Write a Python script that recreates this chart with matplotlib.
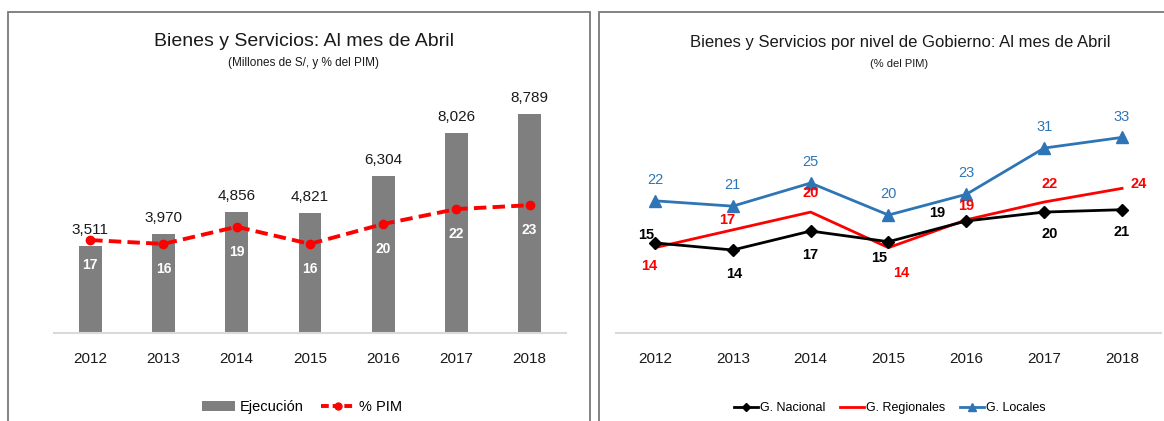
import matplotlib
matplotlib.use('Agg')
import matplotlib.pyplot as plt
from matplotlib.patches import Patch, Rectangle
from matplotlib.lines import Line2D

plt.rcParams['font.family'] = ['Liberation Sans', 'DejaVu Sans']

# datos
years = ['2012', '2013', '2014', '2015', '2016', '2017', '2018']
ejecucion = [3511, 3970, 4856, 4821, 6304, 8026, 8789]
pim_pct = [16.8, 16.1, 19.2, 16.1, 19.7, 22.4, 23.1]

g_nacional = [15.2, 14.0, 17.2, 15.4, 18.9, 20.4, 20.8]
g_regionales = [14.4, 17.4, 20.4, 14.4, 19.1, 22.1, 24.4]
g_locales = [22.3, 21.4, 25.3, 19.9, 23.4, 31.2, 33.0]

GRAY = '#7f7f7f'
RED = '#ff0000'
BLUE = '#2e75b6'
TXT = '#1a1a1a'

fig = plt.figure(figsize=(11.64, 4.21), dpi=100)

# marcos de los paneles
fig.add_artist(Rectangle((8 / 1164, -0.05), 582 / 1164, 1.05 - 12 / 421,
                         transform=fig.transFigure, fill=False,
                         edgecolor='#7a7a7a', linewidth=1.3))
fig.add_artist(Rectangle((599 / 1164, -0.05), 0.6, 1.05 - 12 / 421,
                         transform=fig.transFigure, fill=False,
                         edgecolor='#7a7a7a', linewidth=1.3))

x = list(range(len(years)))

# ---- grafico izquierdo: barras + linea
ax1 = fig.add_axes([0.046, 0.209, 0.4405, 0.5914])
ax1.bar(x, ejecucion, width=0.31, color=GRAY, zorder=2)
ax1.set_ylim(0, 10000)
ax1.set_xlim(-0.5, 6.5)
for i, v in enumerate(ejecucion):
    ax1.annotate(f'{v:,}', (i, v), xytext=(0, 11.5), textcoords='offset points',
                 ha='center', va='center', fontsize=11, color=TXT)
ax1.set_xticks(x)
ax1.set_xticklabels(years, fontsize=11, color=TXT)
ax1.tick_params(axis='x', length=0, pad=14)
ax1.set_yticks([])
for s in ['top', 'right', 'left']:
    ax1.spines[s].set_visible(False)
ax1.spines['bottom'].set_color('#d9d9d9')
ax1.spines['bottom'].set_linewidth(1.5)

ax2 = ax1.twinx()
ax2.plot(x, pim_pct, color=RED, linestyle=(0, (3.2, 1.6)), linewidth=2.8,
         marker='o', markersize=6, zorder=3)
ax2.set_ylim(0, 45)
for i, v in enumerate(pim_pct):
    ax2.annotate(f'{v:.0f}', (i, v), xytext=(0, -18), textcoords='offset points',
                 ha='center', va='center', fontsize=10, fontweight='bold',
                 color='white')
ax2.axis('off')

fig.text(304 / 1164, 1 - 41 / 421, 'Bienes y Servicios: Al mes de Abril',
         ha='center', va='center', fontsize=14, color=TXT)
fig.text(304 / 1164, 1 - 63 / 421, '(Millones de S/, y % del PIM)',
         ha='center', va='center', fontsize=8.5, color=TXT)

h1 = [Patch(facecolor=GRAY),
      Line2D([], [], color=RED, linestyle=(0, (2, 1)), linewidth=2.8,
             marker='o', markersize=5)]
fig.legend(h1, ['Ejecución', '% PIM'], loc='center', ncol=2,
           bbox_to_anchor=(302 / 1164, 1 - 407 / 421), frameon=False,
           fontsize=10.5, handlelength=2.3, handletextpad=0.3,
           columnspacing=1.2)

# ---- grafico derecho: niveles de gobierno
ax3 = fig.add_axes([0.5292, 0.209, 0.4682, 0.5914])
ax3.plot(x, g_locales, color=BLUE, linewidth=2, marker='^', markersize=8)
ax3.plot(x, g_regionales, color=RED, linewidth=2)
ax3.plot(x, g_nacional, color='black', linewidth=2, marker='D', markersize=6)
ax3.set_ylim(0, 42)
ax3.set_xlim(-0.5, 6.5)

off_nac = [(-6, 6), (1, -17), (0, -17), (-6.5, -12), (-21, 6), (4, -16), (0, -16)]
off_reg = [(-4, -13), (-4, 7), (0, 14), (9, -18), (0, 10), (4, 13), (12, 3)]
for i in x:
    ax3.annotate(f'{g_locales[i]:.0f}', (i, g_locales[i]), xytext=(0, 15),
                 textcoords='offset points', ha='center', va='center',
                 fontsize=10.5, color=BLUE)
    ax3.annotate(f'{g_nacional[i]:.0f}', (i, g_nacional[i]), xytext=off_nac[i],
                 textcoords='offset points', ha='center', va='center',
                 fontsize=10.5, fontweight='bold', color='black')
    ax3.annotate(f'{g_regionales[i]:.0f}', (i, g_regionales[i]),
                 xytext=off_reg[i], textcoords='offset points', ha='center',
                 va='center', fontsize=10.5, fontweight='bold', color=RED)

ax3.set_xticks(x)
ax3.set_xticklabels(years, fontsize=11, color=TXT)
ax3.tick_params(axis='x', length=0, pad=14)
ax3.set_yticks([])
for s in ['top', 'right', 'left']:
    ax3.spines[s].set_visible(False)
ax3.spines['bottom'].set_color('#d9d9d9')
ax3.spines['bottom'].set_linewidth(1.5)

fig.text(900 / 1164, 1 - 43 / 421,
         'Bienes y Servicios por nivel de Gobierno: Al mes de Abril',
         ha='center', va='center', fontsize=12, color=TXT)
fig.text(899 / 1164, 1 - 64 / 421, '(% del PIM)',
         ha='center', va='center', fontsize=8, color=TXT)

h2 = [Line2D([], [], color='black', linewidth=2, marker='D', markersize=4.5),
      Line2D([], [], color=RED, linewidth=2),
      Line2D([], [], color=BLUE, linewidth=2, marker='^', markersize=6)]
fig.legend(h2, ['G. Nacional', 'G. Regionales', 'G. Locales'], loc='center',
           ncol=3, bbox_to_anchor=(890 / 1164, 1 - 408 / 421), frameon=False,
           fontsize=9, handlelength=1.9, handletextpad=0.15,
           columnspacing=1.2)

fig.savefig('out.png', dpi=100)
